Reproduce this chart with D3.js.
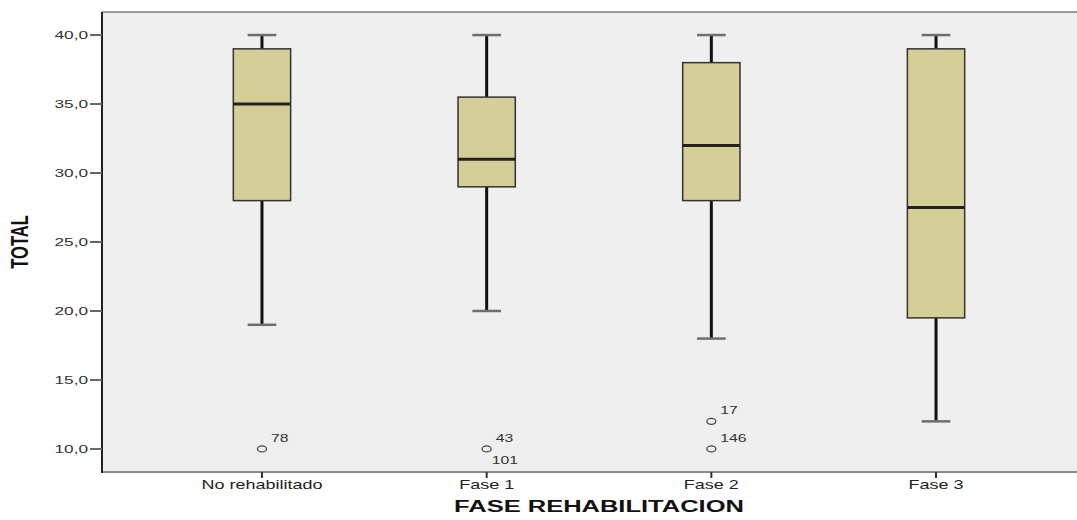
<!DOCTYPE html>
<html>
<head>
<meta charset="utf-8">
<script src="https://cdn.jsdelivr.net/npm/d3@7"></script>
<style>
  body { margin: 0; background: #fff; }
  text { font-family: "Liberation Sans", Arial, sans-serif; }
</style>
</head>
<body>
<div id="chart"></div>
<script>
var width = 1077, height = 520;

// data
var categories = ["No rehabilitado", "Fase 1", "Fase 2", "Fase 3"];
var mins    = [19, 20, 18, 12];
var q1s     = [28, 29, 28, 19.5];
var medians = [35, 31, 32, 27.5];
var q3s     = [39, 35.5, 38, 39];
var maxs    = [40, 40, 40, 40];
// outliers: category, value, case label
var outCats   = ["No rehabilitado", "Fase 1", "Fase 2", "Fase 2"];
var outVals   = [10, 10, 12, 10];
var outLabels = [["78"], ["43", "101"], ["17"], ["146"]];
var yTicks = [10, 15, 20, 25, 30, 35, 40];

var pL = 102, pR = 1096, pT = 12, pB = 472;
var sx = 1.5; // the picture is stretched horizontally, text too

var svg = d3.select("#chart").append("svg")
  .attr("width", width)
  .attr("height", height);

var x = d3.scalePoint().domain(categories).range([pL, pR]).padding(0.712);
var y = d3.scaleLinear().domain([8.33, 41.67]).range([pB, pT]);
var boxW = x.step() * 0.255;
var capW = boxW / 2;

// plot background
svg.append("rect")
  .attr("x", pL).attr("y", pT)
  .attr("width", pR - pL).attr("height", pB - pT)
  .attr("fill", "#efefef");

// frame top / bottom / left
svg.append("line").attr("x1", pL).attr("x2", pR).attr("y1", pT).attr("y2", pT)
  .attr("stroke", "#9a9a9a").attr("stroke-width", 2);
svg.append("line").attr("x1", pL).attr("x2", pR).attr("y1", pB).attr("y2", pB)
  .attr("stroke", "#8a8a8a").attr("stroke-width", 2);
svg.append("line").attr("x1", pL).attr("x2", pL).attr("y1", pT).attr("y2", pB + 1)
  .attr("stroke", "#222").attr("stroke-width", 2);

// y ticks
yTicks.forEach(function(t) {
  svg.append("line")
    .attr("x1", pL - 12).attr("x2", pL)
    .attr("y1", y(t)).attr("y2", y(t))
    .attr("stroke", "#666").attr("stroke-width", 2);
  svg.append("text")
    .attr("transform", "translate(" + (pL - 14) + "," + (y(t) + 4) + ") scale(" + sx + ",1)")
    .attr("text-anchor", "end")
    .style("font-size", "11.5px")
    .style("fill", "#333")
    .text(t.toFixed(1).replace(".", ","));
});

// x ticks
categories.forEach(function(c) {
  svg.append("line")
    .attr("x1", x(c)).attr("x2", x(c))
    .attr("y1", pB).attr("y2", pB + 6)
    .attr("stroke", "#333").attr("stroke-width", 2);
  svg.append("text")
    .attr("transform", "translate(" + x(c) + "," + (pB + 17) + ") scale(" + sx + ",1)")
    .attr("text-anchor", "middle")
    .style("font-size", "12px")
    .style("fill", "#222")
    .text(c);
});

// boxes
for (var i = 0; i < categories.length; i++) {
  var cx = x(categories[i]);
  var g = svg.append("g");
  // whiskers
  g.append("line").attr("x1", cx).attr("x2", cx).attr("y1", y(maxs[i])).attr("y2", y(q3s[i]))
    .attr("stroke", "#111").attr("stroke-width", 3);
  g.append("line").attr("x1", cx).attr("x2", cx).attr("y1", y(q1s[i])).attr("y2", y(mins[i]))
    .attr("stroke", "#111").attr("stroke-width", 3);
  // caps
  g.append("line").attr("x1", cx - capW / 2).attr("x2", cx + capW / 2)
    .attr("y1", y(maxs[i])).attr("y2", y(maxs[i]))
    .attr("stroke", "#6e6e6e").attr("stroke-width", 2.5);
  g.append("line").attr("x1", cx - capW / 2).attr("x2", cx + capW / 2)
    .attr("y1", y(mins[i])).attr("y2", y(mins[i]))
    .attr("stroke", "#6e6e6e").attr("stroke-width", 2.5);
  // box
  g.append("rect")
    .attr("x", cx - boxW / 2).attr("y", y(q3s[i]))
    .attr("width", boxW).attr("height", y(q1s[i]) - y(q3s[i]))
    .attr("fill", "#d3cf97")
    .attr("stroke", "#333").attr("stroke-width", 1.5);
  // median
  g.append("line").attr("x1", cx - boxW / 2).attr("x2", cx + boxW / 2)
    .attr("y1", y(medians[i])).attr("y2", y(medians[i]))
    .attr("stroke", "#222").attr("stroke-width", 3);
}

// outliers
for (var j = 0; j < outVals.length; j++) {
  var ox = x(outCats[j]), oy = y(outVals[j]);
  svg.append("ellipse")
    .attr("cx", ox).attr("cy", oy)
    .attr("rx", 4.5).attr("ry", 3)
    .attr("fill", "none").attr("stroke", "#444").attr("stroke-width", 1.3);
  outLabels[j].forEach(function(lab, k) {
    svg.append("text")
      .attr("transform", "translate(" + (k == 0 ? ox + 9 : ox + 5) + "," + (k == 0 ? oy - 7 : oy + 15) + ") scale(" + sx + ",1)")
      .style("font-size", "10.5px")
      .style("fill", "#333")
      .text(lab);
  });
}

// axis titles
svg.append("text")
  .attr("transform", "translate(" + ((pL + pR) / 2) + "," + 512 + ") scale(" + sx + ",1)")
  .attr("text-anchor", "middle")
  .style("font-size", "17px")
  .style("font-weight", "bold")
  .style("fill", "#111")
  .text("FASE REHABILITACION");

svg.append("text")
  .attr("transform", "translate(28," + ((pT + pB) / 2) + ") scale(" + sx + ",1) rotate(-90)")
  .attr("text-anchor", "middle")
  .style("font-size", "16.5px")
  .style("font-weight", "bold")
  .style("fill", "#111")
  .text("TOTAL");
</script>
</body>
</html>
